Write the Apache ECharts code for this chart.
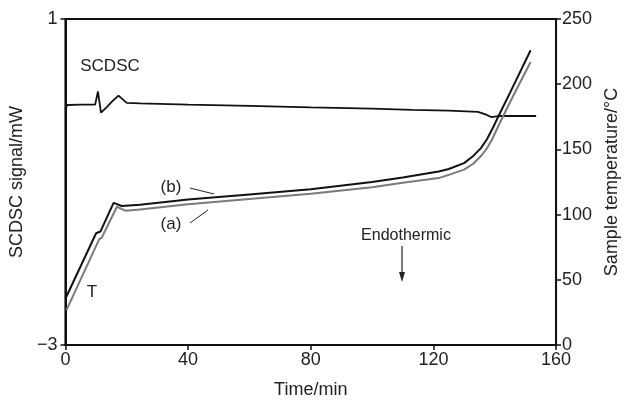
<!DOCTYPE HTML>
<html>
<meta charset="utf-8"/>
<style>body{margin:0;background:#fff;}</style>
<div id="main" style="width: 629px;height:404px;"></div>
<script src="https://cdn.jsdelivr.net/npm/echarts@6/dist/echarts.min.js"></script>
<script>
// SCDSC signal (mW), left axis
var sigTime = [0, 0.6, 5, 9.7, 10.6, 11.6, 13.5, 15, 17.3, 20, 24.3, 40, 60, 80, 100, 113, 125, 134.5, 137, 139, 140.5, 142, 145, 150, 153.5];
var sigVal  = [-0.10, -0.055, -0.05, -0.05, 0.11, -0.15, -0.08, -0.02, 0.06, -0.03, -0.035, -0.05, -0.065, -0.085, -0.10, -0.115, -0.125, -0.14, -0.17, -0.205, -0.195, -0.19, -0.19, -0.19, -0.19];

// sample temperature (°C), right axis
var bTime = [0.3, 10, 11.4, 15.7, 18.4, 24.3, 40, 60, 80, 100, 110, 121.7, 125, 130, 133, 135.5, 137.5, 139.5, 141, 145, 151.7];
var bTemp = [37, 85.7, 87, 109, 106.6, 107.5, 111.5, 115.5, 119.5, 125, 128.5, 133, 135, 139.5, 145, 151, 158, 167, 174.5, 193.5, 226];
var aTime = [0.3, 11, 11.9, 16.8, 19.5, 24.3, 40, 60, 80, 100, 110, 121.7, 125, 130, 133, 135.8, 137.5, 139, 140.5, 142, 146, 151.7];
var aTemp = [26.5, 81, 82.5, 106, 103, 104, 108, 112, 116, 121, 124.5, 128, 130.5, 134.5, 139, 145.7, 151, 157, 164.5, 172, 191, 217];

var xTicks = [0, 40, 80, 120, 160];
var leftTicks = [-3, 1];

function pairs(x, y){
  var out = [];
  for(var i=0;i<x.length;i++){ out.push([x[i], y[i]]); }
  return out;
}

var font = 'Liberation Sans, Arial, sans-serif';
var txt = {color:'#222', fontSize:18, fontFamily:font};

var myChart = echarts.init(document.getElementById('main'));
var option = {
  animation: false,
  backgroundColor: '#fff',
  grid: {left:65, right:71, top:19, bottom:59, show:true, borderColor:'#111', borderWidth:2},
  xAxis: {
    type:'value', min:0, max:160, interval:40,
    name:'Time/min', nameLocation:'middle', nameGap:36, nameTextStyle:txt,
    axisLine:{onZero:false, lineStyle:{color:'#111', width:2}},
    axisTick:{length:5, customValues:xTicks, lineStyle:{color:'#111', width:1.5}},
    axisLabel:Object.assign({margin:6}, txt),
    splitLine:{show:false}
  },
  yAxis: [{
    type:'value', min:-3, max:1,
    name:'SCDSC signal/mW', nameLocation:'middle', nameGap:36, nameTextStyle:txt,
    axisLine:{show:true, onZero:false, lineStyle:{color:'#111', width:2}},
    axisTick:{show:true, length:5, customValues:leftTicks, lineStyle:{color:'#111', width:1.5}},
    axisLabel:Object.assign({margin:8, customValues:leftTicks, formatter:function(v){ return String(v).replace('-', '\u2212'); }}, txt),
    splitLine:{show:false}
  },{
    type:'value', min:0, max:250, interval:50, position:'right',
    name:'Sample temperature/°C', nameLocation:'middle', nameGap:44, nameTextStyle:txt,
    axisLine:{show:true, onZero:false, lineStyle:{color:'#111', width:2}},
    axisTick:{show:true, length:5, lineStyle:{color:'#111', width:1.5}},
    axisLabel:Object.assign({margin:6}, txt),
    splitLine:{show:false}
  }],
  series: [{
    name:'SCDSC', type:'line', yAxisIndex:0, data:pairs(sigTime, sigVal),
    showSymbol:false, lineStyle:{color:'#111', width:1.8}
  },{
    name:'(a)', type:'line', yAxisIndex:1, data:pairs(aTime, aTemp),
    showSymbol:false, lineStyle:{color:'#7a7a7a', width:2}
  },{
    name:'(b)', type:'line', yAxisIndex:1, data:pairs(bTime, bTemp),
    showSymbol:false, lineStyle:{color:'#111', width:2}
  }],
  graphic: [
    {type:'text', x:110, y:66, style:{text:'SCDSC', fill:'#222', font:'17px '+font, align:'center', verticalAlign:'middle'}},
    {type:'text', x:171, y:187, style:{text:'(b)', fill:'#222', font:'17px '+font, align:'center', verticalAlign:'middle'}},
    {type:'text', x:171, y:224, style:{text:'(a)', fill:'#222', font:'17px '+font, align:'center', verticalAlign:'middle'}},
    {type:'text', x:92, y:292, style:{text:'T', fill:'#222', font:'17px '+font, align:'center', verticalAlign:'middle'}},
    {type:'text', x:406, y:236, style:{text:'Endothermic', fill:'#222', font:'16px '+font, align:'center', verticalAlign:'middle'}},
    {type:'line', shape:{x1:190, y1:188, x2:214, y2:194}, style:{stroke:'#222', lineWidth:1}},
    {type:'line', shape:{x1:190, y1:223, x2:208, y2:210}, style:{stroke:'#222', lineWidth:1}},
    {type:'line', shape:{x1:402, y1:246, x2:402, y2:274}, style:{stroke:'#222', lineWidth:1.2}},
    {type:'polygon', shape:{points:[[399, 272], [405, 272], [402, 282]]}, style:{fill:'#222'}}
  ]
};
myChart.setOption(option);
</script>
</html>
